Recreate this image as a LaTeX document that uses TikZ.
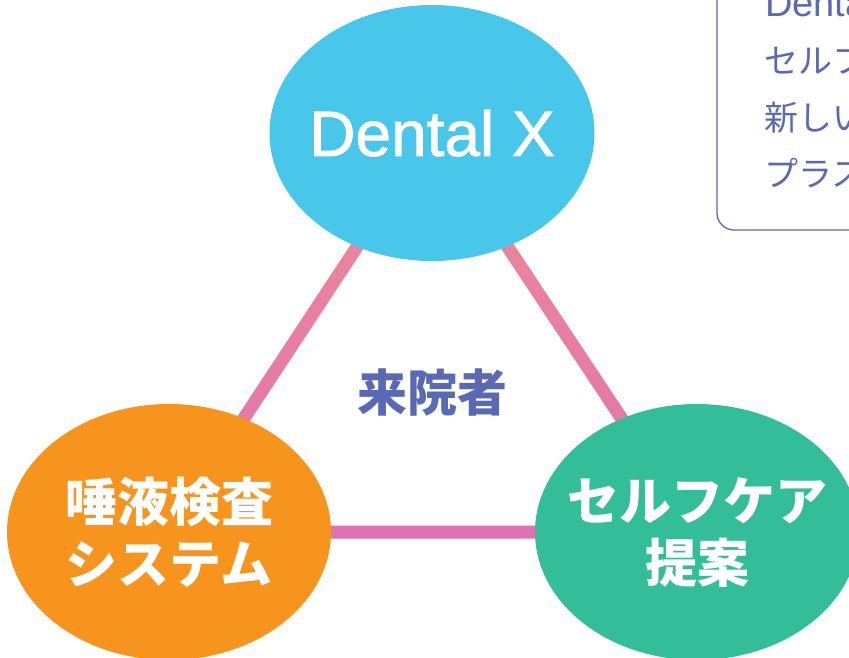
\documentclass[tikz,border=0pt]{standalone}
\usepackage{fontspec}
\setmainfont{Noto Sans CJK JP}
\newfontfamily\latinfont{Liberation Sans}
\newfontfamily\latinmed{Liberation Sans}[FakeBold=1.3]
\usetikzlibrary{shapes.geometric,calc}
\definecolor{cyanc}{HTML}{48C7EA}
\definecolor{orangec}{HTML}{F7941D}
\definecolor{greenc}{HTML}{33BD99}
\definecolor{linktop}{HTML}{F08C94}
\definecolor{linkbot}{HTML}{DD72B0}
\definecolor{navy}{HTML}{5A69B4}
\tikzset{
  bubble/.style={ellipse, minimum width=325pt, minimum height=256pt, inner sep=0pt},
  bubbletext/.style={text=white, align=center, inner sep=0pt},
  notetext/.style={anchor=base west, inner sep=0pt, text=navy, font=\fontsize{34}{40}\selectfont},
}
\begin{document}
\begin{tikzpicture}[x=1pt,y=-1pt]
\useasboundingbox (0,0) rectangle (849,657);
\clip (0,0) rectangle (849,657);
% bubbles (shapes)
\node[bubble] (dx) at (432,133) {};
\node[bubble] (sa) at (169,532) {};
\node[bubble] (sc) at (697,532) {};
% links (drawn as bands so that they share one vertical gradient)
\shade[top color=linktop, bottom color=linkbot]
  ($(dx.center)!6.5pt!90:(sa.center)$) -- ($(sa.center)!6.5pt!-90:(dx.center)$) -- ($(sa.center)!6.5pt!90:(dx.center)$) -- ($(dx.center)!6.5pt!-90:(sa.center)$) -- cycle
  ($(dx.center)!6.5pt!90:(sc.center)$) -- ($(sc.center)!6.5pt!-90:(dx.center)$) -- ($(sc.center)!6.5pt!90:(dx.center)$) -- ($(dx.center)!6.5pt!-90:(sc.center)$) -- cycle
  ($(sa.center)!6.5pt!90:(sc.center)$) -- ($(sc.center)!6.5pt!-90:(sa.center)$) -- ($(sc.center)!6.5pt!90:(sa.center)$) -- ($(sa.center)!6.5pt!-90:(sc.center)$) -- cycle;
\fill[cyanc] (dx.center) ellipse [x radius=162.5pt, y radius=128pt];
\fill[orangec] (sa.center) ellipse [x radius=162pt, y radius=128pt];
\fill[greenc] (sc.center) ellipse [x radius=162pt, y radius=128pt];
% bubble texts
\node[bubbletext, font=\latinmed\fontsize{64}{70}\selectfont] (dxt) at (dx.center) {Dental X};
\node[bubbletext, font=\fontsize{52}{62}\selectfont\bfseries] (sat) at (sa.center) {唾液検査\\システム};
\node[bubbletext, font=\fontsize{52}{62}\selectfont\bfseries] (sct) at (sc.center) {セルフケア\\提案};
% centre label
\node[text=navy, font=\fontsize{50}{56}\selectfont\bfseries] (pt) at (432,392) {来院者};
% note box (cut by the picture edge)
\draw[navy, line width=1.3pt, rounded corners=17pt] (717,-30) -- (717,230) -- (900,230);
\node[notetext, font=\latinfont\fontsize{38}{40}\selectfont] (n1) at (765,16) {Dental X};
\node[notetext] (n2) at (764,73) {セルフケア};
\node[notetext] (n3) at (764,130) {新しい};
\node[notetext] (n4) at (764,186) {プラス};
\end{tikzpicture}
\end{document}
